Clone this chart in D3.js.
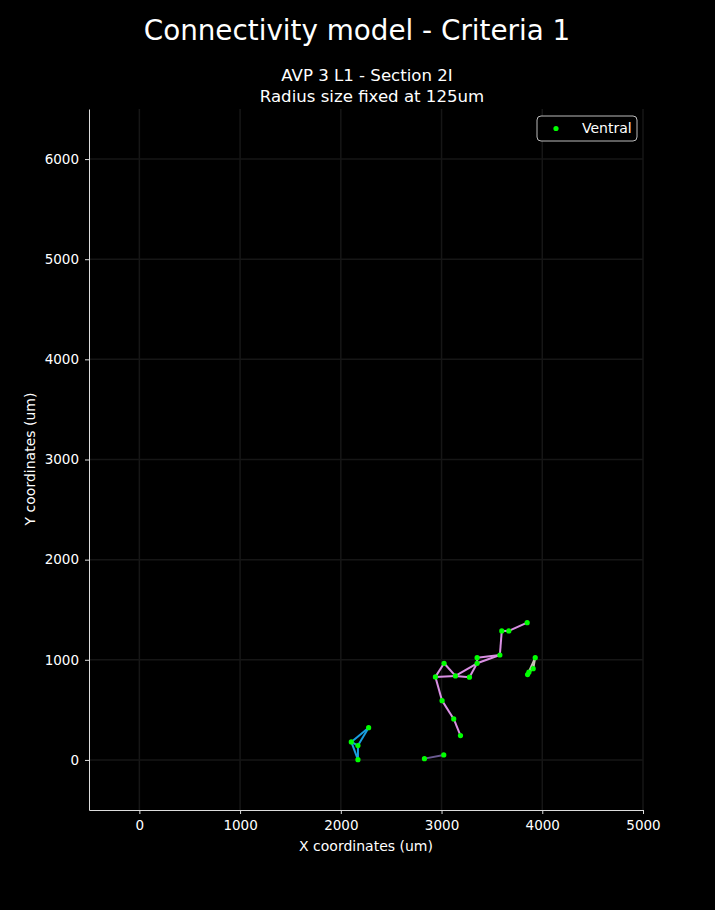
<!DOCTYPE html>
<html>
<head>
<meta charset="utf-8">
<script src="https://cdn.jsdelivr.net/npm/d3@7"></script>
<style>
  body { margin: 0; background: #000; }
  svg { display: block; font-family: "DejaVu Sans", sans-serif; }
</style>
</head>
<body>
<svg id="chart" width="715" height="910"></svg>
<script>
// node positions (um)
const nodeIds = ["A","B","C","D","E","F","G","H","I","J","K","L","M","N","O","P","Q","R","S","T","U","V","W"];
const nodeX = [2276,2104,2170,2170,2830,3022,3850,3668,3598,3579,3353,3353,3025,2939,3138,3277,3005,3121,3188,3930,3910,3867,3854];
const nodeY = [322,180,143,3,13,50,1371,1288,1288,1048,1021,965,965,829,839,826,592,409,243,1021,911,876,852];

// connected groups, one colour each
const groupColors = ["#1a9fe0","#6a5a90","#d98fe3","#c9c1b6"];
const groupEdges = [
  [["A","B"],["A","C"],["B","C"],["B","D"],["C","D"]],
  [["E","F"]],
  [["G","H"],["H","I"],["I","J"],["J","K"],["J","L"],["K","L"],["L","O"],["L","P"],
   ["M","N"],["M","O"],["N","O"],["O","P"],["N","Q"],["Q","R"],["R","S"]],
  [["T","U"],["T","W"],["U","V"],["V","W"]]
];

const xTicks = [0,1000,2000,3000,4000,5000];
const yTicks = [0,1000,2000,3000,4000,5000,6000];

const svg = d3.select('#chart');
const margin = {left: 89, right: 72, top: 109, bottom: 100};
const W = 715, H = 910;

const x = d3.scaleLinear().domain([-500, 5000]).range([margin.left, W - margin.right]);
const y = d3.scaleLinear().domain([-500, 6500]).range([H - margin.bottom, margin.top]);

svg.append('rect').attr('width', W).attr('height', H).attr('fill', '#000');

// grid
const grid = svg.append('g').attr('stroke', '#161616').attr('stroke-width', 1.5);
xTicks.forEach(function (t) {
  grid.append('line').attr('x1', x(t)).attr('x2', x(t)).attr('y1', y(-500)).attr('y2', y(6500));
});
yTicks.forEach(function (t) {
  grid.append('line').attr('y1', y(t)).attr('y2', y(t)).attr('x1', x(-500)).attr('x2', x(5000));
});

// axes
const xAxis = svg.append('g').attr('transform', 'translate(0,' + y(-500) + ')')
  .call(d3.axisBottom(x).tickValues(xTicks).tickFormat(d3.format('d')).tickSize(4).tickSizeOuter(0).tickPadding(6));
const yAxis = svg.append('g').attr('transform', 'translate(' + x(-500) + ',0)')
  .call(d3.axisLeft(y).tickValues(yTicks).tickFormat(d3.format('d')).tickSize(4).tickSizeOuter(0).tickPadding(6));
[xAxis, yAxis].forEach(function (a) {
  a.selectAll('path,line').attr('stroke', '#ddd');
  a.selectAll('text').attr('fill', '#fff').attr('font-size', 13.5).attr('font-family', '"DejaVu Sans", sans-serif');
});

// edges
const byId = {};
nodeIds.forEach(function (id, i) { byId[id] = {x: nodeX[i], y: nodeY[i]}; });
const edgeGroup = svg.append('g');
groupEdges.forEach(function (edges, gi) {
  edges.forEach(function (e) {
    edgeGroup.append('line')
      .attr('x1', x(byId[e[0]].x)).attr('y1', y(byId[e[0]].y))
      .attr('x2', x(byId[e[1]].x)).attr('y2', y(byId[e[1]].y))
      .attr('stroke', groupColors[gi]).attr('stroke-width', 2);
  });
});

// nodes
svg.append('g').selectAll('circle')
  .data(nodeIds)
  .enter().append('circle')
  .attr('cx', function (d, i) { return x(nodeX[i]); })
  .attr('cy', function (d, i) { return y(nodeY[i]); })
  .attr('r', 2.6)
  .attr('fill', '#00ff00');

// titles
svg.append('text').attr('x', 357).attr('y', 40).attr('text-anchor', 'middle')
  .attr('fill', '#fff').attr('font-size', 27.8).text('Connectivity model - Criteria 1');
svg.append('text').attr('x', 367).attr('y', 81).attr('text-anchor', 'middle')
  .attr('fill', '#fff').attr('font-size', 16.6).text('AVP 3 L1 - Section 2I');
svg.append('text').attr('x', 372).attr('y', 102).attr('text-anchor', 'middle')
  .attr('fill', '#fff').attr('font-size', 16.6).text('Radius size fixed at 125um');

svg.append('text').attr('x', 366).attr('y', 851).attr('text-anchor', 'middle')
  .attr('fill', '#fff').attr('font-size', 14).text('X coordinates (um)');
svg.append('text').attr('transform', 'translate(35,459) rotate(-90)').attr('text-anchor', 'middle')
  .attr('fill', '#fff').attr('font-size', 14).text('Y coordinates (um)');

// legend
const lg = svg.append('g').attr('transform', 'translate(537,116)');
lg.append('rect').attr('width', 100).attr('height', 25).attr('rx', 4)
  .attr('fill', '#000').attr('stroke', '#bbb').attr('stroke-width', 1);
lg.append('circle').attr('cx', 19).attr('cy', 12.5).attr('r', 2.6).attr('fill', '#00ff00');
lg.append('text').attr('x', 45).attr('y', 17).attr('fill', '#fff').attr('font-size', 14).text('Ventral');
</script>
</body>
</html>
